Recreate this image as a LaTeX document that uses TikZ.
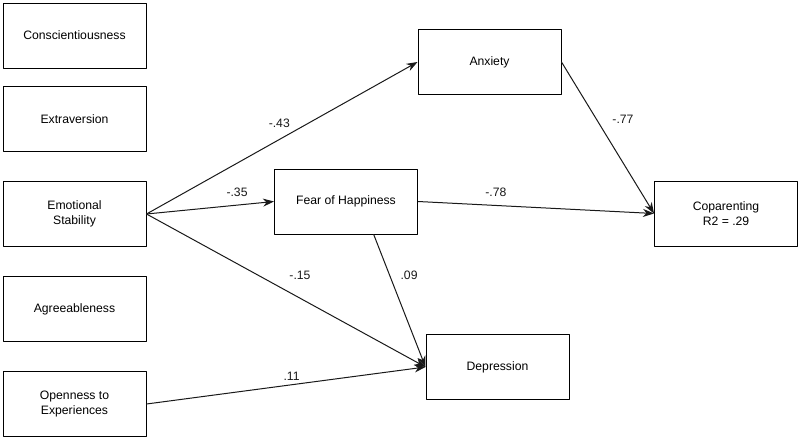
\documentclass[tikz,border=0pt]{standalone}
\usepackage{fontspec}
\setmainfont{Liberation Sans}
\usetikzlibrary{arrows.meta}

\begin{document}
\begin{tikzpicture}[line cap=round,line join=round,x=1pt,y=-1pt,
    >={Stealth[length=11pt,width=8pt,inset=3.5pt]},
    varbox/.style={draw=black,line width=1pt,minimum width=143pt,minimum height=65pt,
      align=center,font=\fontsize{12.2}{14.5}\selectfont},
    path/.style={->,line width=1pt,color=black!90},
    coef/.style={font=\fontsize{12.2}{14}\selectfont}]
      \useasboundingbox (0,0) rectangle (800,439);
      % personality traits
      \node[varbox] (consc) at (74.5,35.5) {Conscientiousness};
      \node[varbox] (extra) at (74.5,119) {Extraversion};
      \node[varbox] (emost) at (74.5,214) {Emotional\\Stability};
      \node[varbox] (agree) at (74.5,309) {Agreeableness};
      \node[varbox] (open) at (74.5,404) {Openness to\\Experiences};
      % mediators and outcomes
      \node[varbox] (anx) at (489.5,62) {Anxiety};
      \node[varbox] (foh) at (346,201.5) {Fear of Happiness};
      \node[varbox] (dep) at (497.5,367) {Depression};
      \node[varbox] (copar) at (726,213.5) {Coparenting\\R2 = .29};
      % paths
      \draw[path] (emost.east) -- (anx.west) node[coef,pos=0.49,above=8pt] {-.43};
      \draw[path] (emost.east) -- (foh.west) node[coef,pos=0.71,above=5pt] {-.35};
      \draw[path] (emost.east) -- (dep.west) node[coef,pos=0.55,above=15pt] {-.15};
      \draw[path] (open.east) -- (dep.west) node[coef,pos=0.52,above=0pt] {.11};
      \draw[path] (foh.-50) -- (dep.west) node[coef,pos=0.31,right=7pt] {.09};
      \draw[path] (foh.east) -- (copar.west) node[coef,pos=0.33,above=5pt] {-.78};
      \draw[path] (anx.east) -- (copar.west) node[coef,pos=0.38,right=12pt] {-.77};
    \end{tikzpicture}
\end{document}
